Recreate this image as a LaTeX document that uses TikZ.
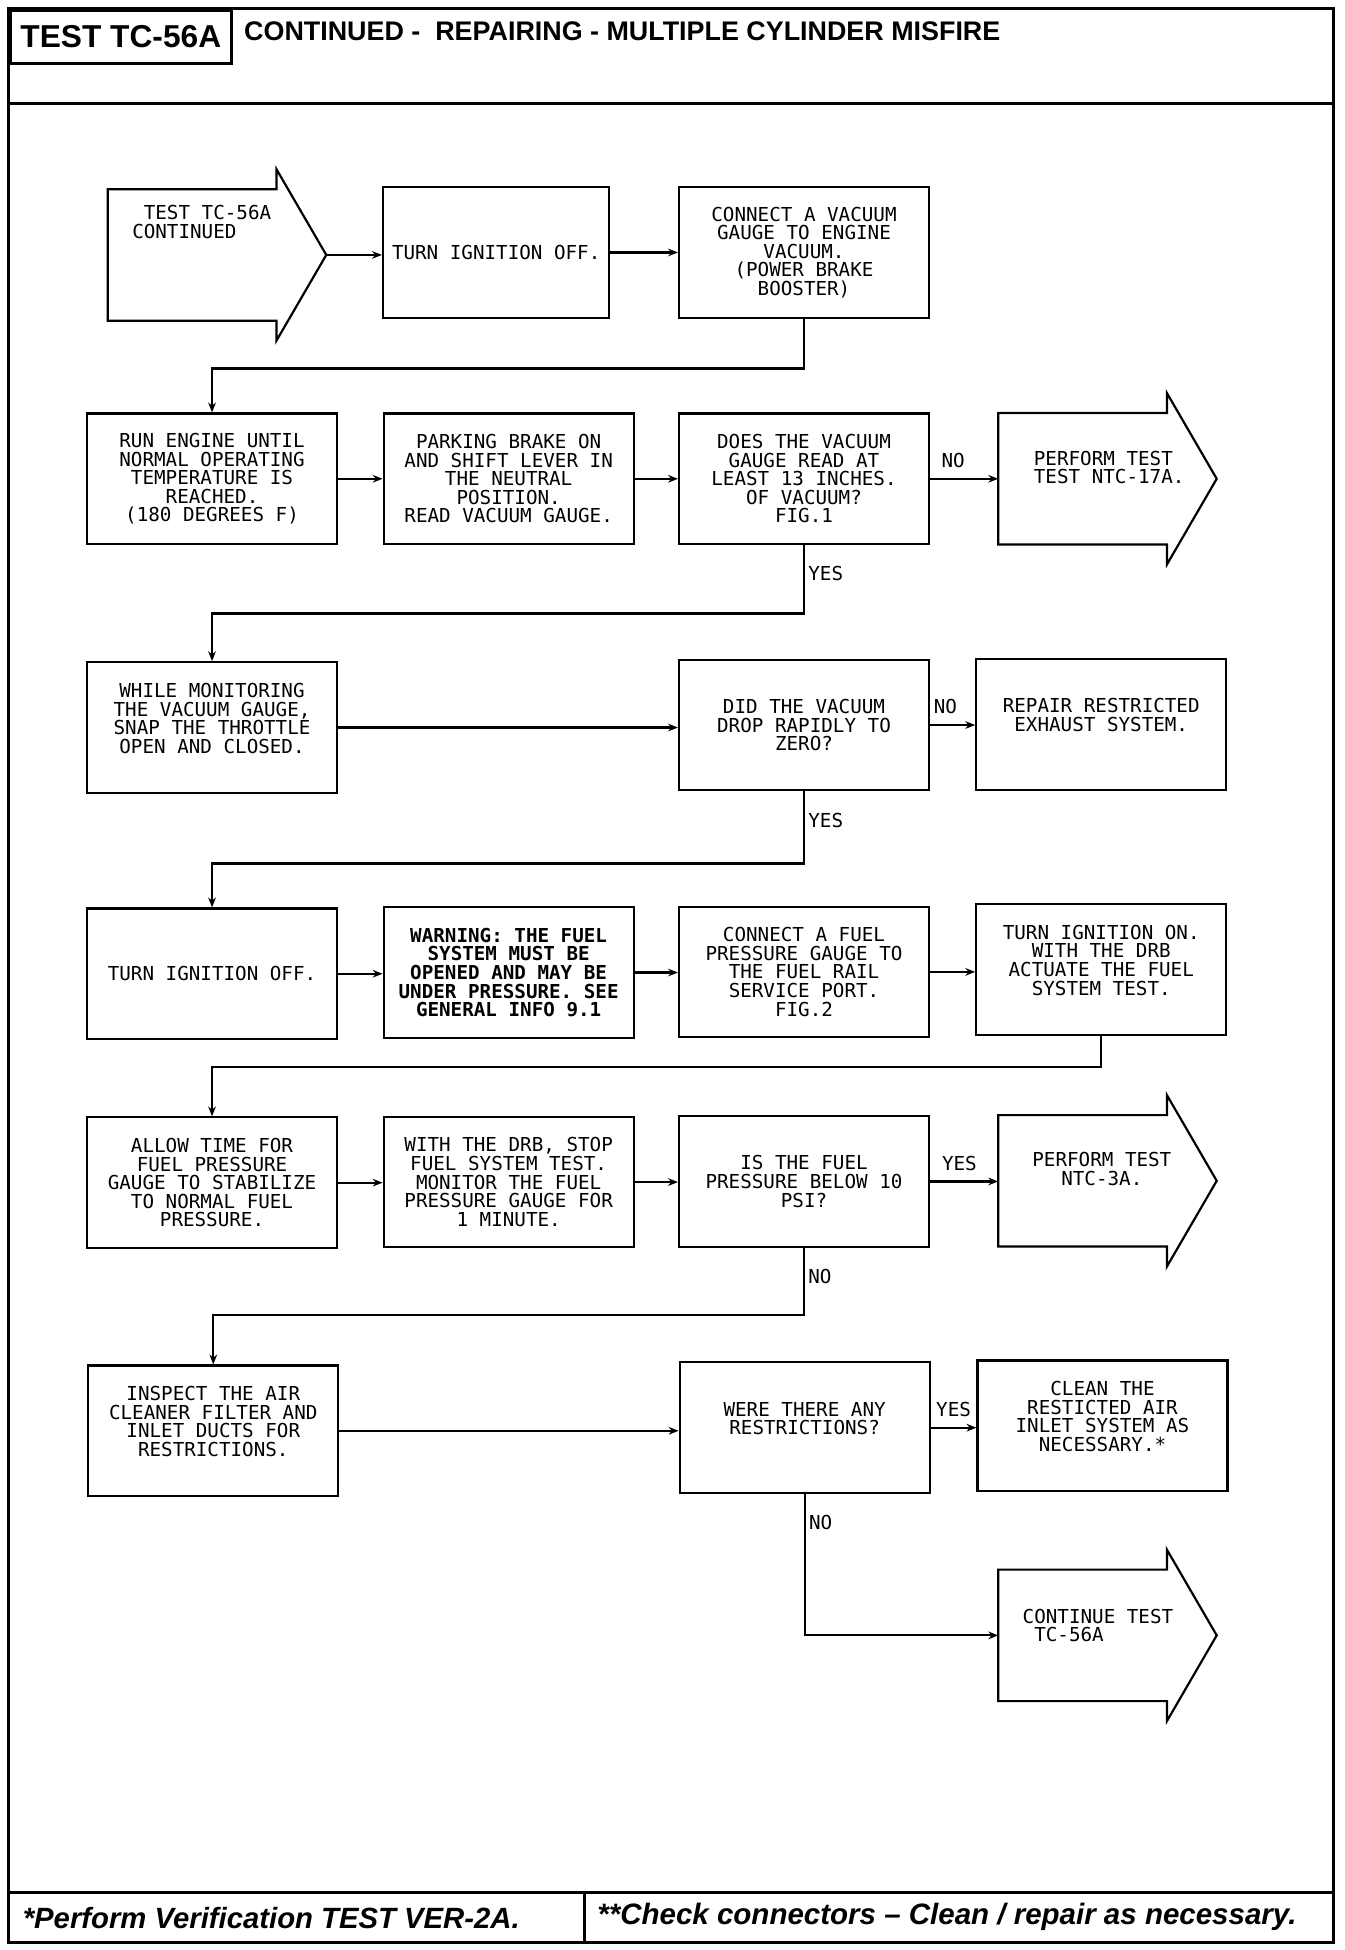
\documentclass[tikz,border=0pt]{standalone}
\usepackage{fontspec}
\usetikzlibrary{arrows.meta,calc}
\newfontfamily\plotfont{DejaVu Sans Mono}
\newfontfamily\headfont{Liberation Sans}
\newcommand\plotfnt{\plotfont\fontsize{8.8}{8.5}\selectfont}

\begin{document}
\begin{tikzpicture}[x=0.2mm,y=-0.2mm,
    frm/.style={line width=1.3pt},
    stepbox/.style={draw,line width=1pt,minimum width=40.2mm,minimum height=21mm,
      inner sep=0pt,align=center,font=\plotfnt},
    flag/.style={minimum width=27mm,minimum height=21mm,inner sep=0pt},
    txt/.style={inner sep=0pt,font=\plotfnt},
    ans/.style={inner sep=1.5pt,font=\plotfnt},
    link/.style={line width=1pt,-{Stealth[length=4.5pt,width=3.5pt]}}]
    \useasboundingbox (0,0) rectangle (1081,1568);
    % frame, header and footer
    \draw[frm] (7,7) rectangle (1072,1562);
    \draw[frm] (7,83) -- (1072,83);
    \draw[frm] (7,1522) -- (1072,1522);
    \draw[frm] (470,1522) -- (470,1562);
    \node[draw,frm,anchor=north west,minimum width=35.6mm,minimum height=8.6mm,
      inner sep=0pt,font=\headfont\bfseries\fontsize{14.5}{16}\selectfont]
      (ttl) at (7,7) {TEST TC-56A};
    \node[anchor=west,inner sep=0pt,font=\headfont\bfseries\fontsize{12.3}{14}\selectfont]
      (hdr) at (196,25) {CONTINUED -\ \ REPAIRING - MULTIPLE CYLINDER MISFIRE};
    \node[anchor=west,inner sep=0pt,font=\headfont\bfseries\itshape\fontsize{13.4}{15}\selectfont]
      (ftl) at (18,1542) {*Perform Verification TEST VER-2A.};
    \node[anchor=west,inner sep=0pt,font=\headfont\bfseries\itshape\fontsize{13.5}{15}\selectfont]
      (ftr) at (480,1541) {**Check connectors – Clean / repair as necessary.};

    % row 1
    \node[flag] (a0) at (154.5,205) {};
    \node[stepbox,minimum width=36.4mm] (b12) at (399,203) {TURN IGNITION OFF.};
    \node[stepbox] (b13) at (646.5,203)
      {CONNECT A VACUUM\\GAUGE TO ENGINE\\VACUUM.\\(POWER BRAKE\\BOOSTER)};
    % row 2
    \node[stepbox] (b21) at (170.5,385)
      {RUN ENGINE UNTIL\\NORMAL OPERATING\\TEMPERATURE IS\\REACHED.\\(180 DEGREES F)};
    \node[stepbox] (b22) at (409,385)
      {PARKING BRAKE ON\\AND SHIFT LEVER IN\\THE NEUTRAL\\POSITION.\\READ VACUUM GAUGE.};
    \node[stepbox] (b23) at (646.5,385)
      {DOES THE VACUUM\\GAUGE READ AT\\LEAST 13 INCHES.\\OF VACUUM?\\FIG.1};
    \node[flag] (a24) at (870.5,385) {};
    % row 3
    \node[stepbox] (b31) at (170.5,585)
      {WHILE MONITORING\\THE VACUUM GAUGE,\\SNAP THE THROTTLE\\OPEN AND CLOSED.\\\mbox{}};
    \node[stepbox] (b33) at (646.5,583)
      {DID THE VACUUM\\DROP RAPIDLY TO\\ZERO?};
    \node[stepbox] (b34) at (885.5,582.5)
      {REPAIR RESTRICTED\\EXHAUST SYSTEM.\\\mbox{}};
    % row 4
    \node[stepbox] (b41) at (170.5,783) {TURN IGNITION OFF.};
    \node[stepbox,font=\plotfnt\bfseries] (b42) at (409,782)
      {WARNING: THE FUEL\\SYSTEM MUST BE\\OPENED AND MAY BE\\UNDER PRESSURE. SEE\\GENERAL INFO 9.1};
    \node[stepbox] (b43) at (646.5,781.5)
      {CONNECT A FUEL\\PRESSURE GAUGE TO\\THE FUEL RAIL\\SERVICE PORT.\\FIG.2};
    \node[stepbox] (b44) at (885.5,779.5)
      {TURN IGNITION ON.\\WITH THE DRB\\ACTUATE THE FUEL\\SYSTEM TEST.\\\mbox{}};
    % row 5
    \node[stepbox] (b51) at (170.5,951)
      {ALLOW TIME FOR\\FUEL PRESSURE\\GAUGE TO STABILIZE\\TO NORMAL FUEL\\PRESSURE.};
    \node[stepbox] (b52) at (409,950.5)
      {WITH THE DRB, STOP\\FUEL SYSTEM TEST.\\MONITOR THE FUEL\\PRESSURE GAUGE FOR\\1 MINUTE.};
    \node[stepbox] (b53) at (646.5,950)
      {IS THE FUEL\\PRESSURE BELOW 10\\PSI?};
    \node[flag] (a54) at (870.5,949.5) {};
    % row 6
    \node[stepbox] (b61) at (171.5,1150.5)
      {INSPECT THE AIR\\CLEANER FILTER AND\\INLET DUCTS FOR\\RESTRICTIONS.\\\mbox{}};
    \node[stepbox] (b63) at (647,1148)
      {WERE THERE ANY\\RESTRICTIONS?\\\mbox{}};
    \node[stepbox] (b64) at (886.5,1146.5)
      {CLEAN THE\\RESTICTED AIR\\INLET SYSTEM AS\\NECESSARY.*\\\mbox{}};
    \node[flag] (a74) at (870.5,1315) {};

    % big arrow outlines
    \foreach \f in {a0,a24,a54,a74}{
      \draw[line width=1pt] (\f.north east) -- (\f.north west) -- (\f.south west)
        -- (\f.south east) -- ++(0,16) -- ($(\f.east)+(40,0)$)
        -- ($(\f.north east)+(0,-16)$) -- cycle;
    }
    \coordinate (a0tip) at ($(a0.east)+(40,0)$);
    \node[txt,align=left,anchor=west] (a0t) at (106,178.5)
      {\hphantom{T}TEST TC-56A\\CONTINUED};
    \node[txt,align=left,anchor=west] (a24t) at (831,376)
      {PERFORM TEST\\TEST NTC-17A.};
    \node[txt,align=center] (a54t) at (886,940) {PERFORM TEST\\NTC-3A.};
    \node[txt,align=left,anchor=west] (a74t) at (822,1307)
      {CONTINUE TEST\\\hphantom{T}TC-56A};

    % connectors
    \draw[link] (a0tip) -- (a0tip -| b12.west);
    \draw[link] (b12.east) -- (b12.east -| b13.west);
    \draw[link] (b13.south) -- ++(0,40) -| (b21.north);
    \draw[link] (b21.east) -- (b21.east -| b22.west);
    \draw[link] (b22.east) -- (b22.east -| b23.west);
    \draw[link] (b23.east) -- node[ans,above=3pt,pos=0.34] (no1) {NO} (b23.east -| a24.west);
    \draw[link] (b23.south) -- node[ans,right,pos=0.42] (yes1) {YES} ++(0,55) -| (b31.north);
    \draw[link] (b31.east) -- (b31.east -| b33.west);
    \draw[link] (b33.east) -- node[ans,above=3pt,pos=0.34] (no2) {NO} (b33.east -| b34.west);
    \draw[link] (b33.south) -- node[ans,right,pos=0.41] (yes2) {YES} ++(0,58) -| (b41.north);
    \draw[link] (b41.east) -- (b41.east -| b42.west);
    \draw[link] (b42.east) -- (b42.east -| b43.west);
    \draw[link] (b43.east) -- (b43.east -| b44.west);
    \draw[link] (b44.south) -- ++(0,25) -| (b51.north);
    \draw[link] (b51.east) -- (b51.east -| b52.west);
    \draw[link] (b52.east) -- (b52.east -| b53.west);
    \draw[link] (b53.east) -- node[ans,above=3pt,pos=0.43] (yes3) {YES} (b53.east -| a54.west);
    \draw[link] (b53.south) -- node[ans,right,pos=0.43] (no3) {NO} ++(0,54) -| (b61.north);
    \draw[link] (b61.east) -- (b61.east -| b63.west);
    \draw[link] (b63.east) -- node[ans,above=3pt,pos=0.5] (yes4) {YES} (b63.east -| b64.west);
    \draw[link] (b63.south) |- node[ans,right,pos=0.1] (no4) {NO} (a74.west);
\end{tikzpicture}
\end{document}
